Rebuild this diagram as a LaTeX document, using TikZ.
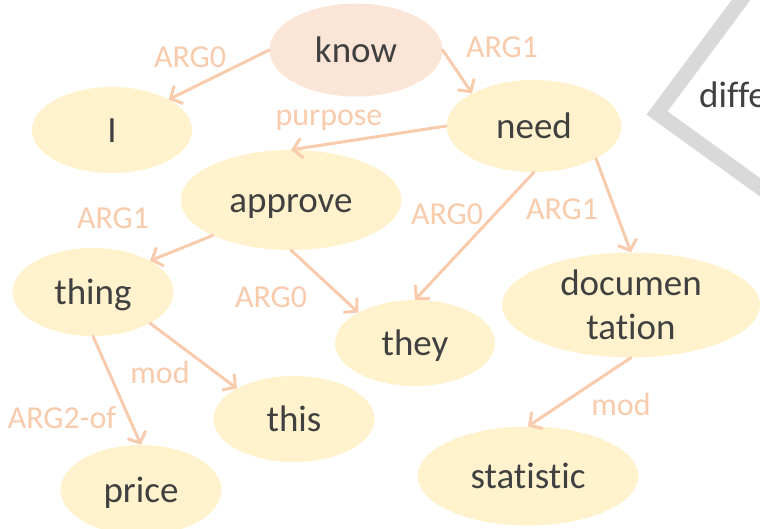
\documentclass[tikz,border=0pt]{standalone}
\usepackage{fontspec}
\setmainfont{Carlito}[Ligatures=NoCommon]
\usepackage{tikz}
\usetikzlibrary{arrows.meta}
\usetikzlibrary{shapes.geometric}
\definecolor{nodeyellow}{HTML}{FFF2CC}
\definecolor{nodepink}{HTML}{FBE5D6}
\definecolor{edgepeach}{HTML}{F8CBAD}
\definecolor{textgrey}{HTML}{404040}
\definecolor{framegrey}{HTML}{D9D9D9}

\begin{document}
\begin{tikzpicture}[x=1pt,y=-1pt]
				\useasboundingbox (0,0) rectangle (760,528);
				\draw [framegrey, line width=15pt] (750,-12) -- (657,113) -- (800,216);
				\node [anchor=base west, inner sep=0, text=textgrey,
					font=\fontsize{37}{44}\selectfont] (W) at (699,107) {diffe};
				\begin{scope}[every node/.style = {ellipse, fill=nodeyellow, inner sep=0,
						text=textgrey, font=\fontsize{37}{44}\selectfont,
						text height=33pt, text depth=8pt}]
					\node [fill=nodepink, minimum width=173pt, minimum height=93pt] (K) at (356,50) {know};
					\node [minimum width=160pt, minimum height=86pt] (I) at (112,130) {I};
					\node [minimum width=221pt, minimum height=100pt] (A) at (291,200) {approve};
					\node [minimum width=175pt, minimum height=92pt] (N) at (534,126) {need};
					\node [minimum width=161pt, minimum height=88pt] (T) at (93,292) {thing};
					\node [minimum width=160pt, minimum height=86pt] (Y) at (415,343) {they};
					\node [minimum width=258pt, minimum height=105pt, align=center,
						text height={}, text depth={}] (D) at (631,305) {documen\\tation};
					\node [minimum width=161pt, minimum height=86pt] (H) at (294,419) {this};
					\node [minimum width=161pt, minimum height=90pt] (P) at (141,490) {price};
					\node [minimum width=221pt, minimum height=99pt] (S) at (528,476) {statistic};
				\end{scope}
				\begin{scope}[>={Straight Barb[length=9pt,width=20pt]},
						every edge/.style={draw=edgepeach, line width=3pt, line cap=round}]
					\path [->] (K.west) edge (I.north east);
					\path [->] (K.east) edge (N.north west);
					\path [->] (N.west) edge (A.north);
					\path [->] (A.south west) edge (T.north east);
					\path [->] (A.south) edge (Y.north west);
					\path [->] (N.south) edge (Y.north);
					\path [->] (N.south east) edge (D.north);
					\path [->] (T.south east) edge (H.north west);
					\path [->] (T.south) edge (P.north);
					\path [->] (D.south) edge (S.north);
				\end{scope}
				\begin{scope}[every node/.style = {anchor=base, inner sep=0, text=edgepeach,
						font=\fontsize{32}{36}\selectfont}]
					\node (L1) at (190,67) {ARG0};
					\node (L2) at (502,57) {ARG1};
					\node (L3) at (329,125) {purpose};
					\node (L4) at (113,228) {ARG1};
					\node (L5) at (271,307) {ARG0};
					\node (L6) at (447,224) {ARG0};
					\node (L7) at (562,219) {ARG1};
					\node (L8) at (160,383) {mod};
					\node (L9) at (62,428) {ARG2-of};
					\node (L10) at (621,415) {mod};
				\end{scope}
			\end{tikzpicture}
\end{document}
